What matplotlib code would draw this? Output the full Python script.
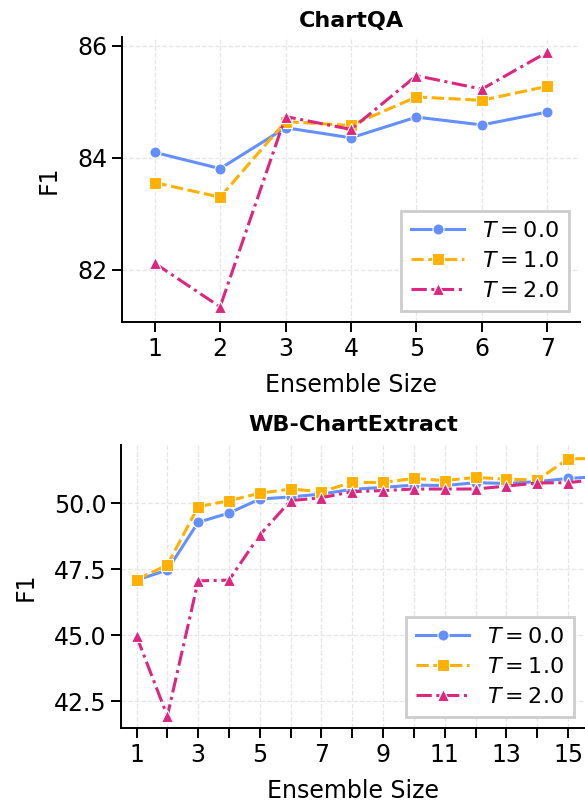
import matplotlib.pyplot as plt
import numpy as np

# ChartQA (ensemble size 1..7)
chartqa_sizes = [1, 2, 3, 4, 5, 6, 7]
chartqa_t0 = [84.10, 83.81, 84.54, 84.36, 84.73, 84.59, 84.82]
chartqa_t1 = [83.56, 83.30, 84.65, 84.58, 85.09, 85.03, 85.28]
chartqa_t2 = [82.12, 81.34, 84.74, 84.51, 85.47, 85.23, 85.89]

# WB-ChartExtract (ensemble size 1..16)
wb_sizes = list(range(1, 17))
wb_t0 = [47.08, 47.46, 49.27, 49.62, 50.15, 50.23, 50.34, 50.52,
         50.59, 50.68, 50.66, 50.77, 50.74, 50.81, 50.93, 51.00]
wb_t1 = [47.10, 47.65, 49.86, 50.09, 50.37, 50.53, 50.43, 50.78,
         50.78, 50.93, 50.85, 50.97, 50.90, 50.87, 51.67, 51.69]
wb_t2 = [44.96, 41.93, 47.05, 47.08, 48.79, 50.09, 50.20, 50.43,
         50.47, 50.53, 50.53, 50.53, 50.64, 50.76, 50.77, 50.90]

labels = ["$T = 0.0$", "$T = 1.0$", "$T = 2.0$"]
colors = ["#648FFF", "#FFB000", "#DC267F"]
markers = ["o", "s", "^"]
dashes = [(None), (4, 1.5), (5, 1.5, 1, 1.5)]

fig = plt.figure(figsize=(5.85, 8.05), dpi=100)
ax1 = fig.add_axes([0.2085, 0.600, 0.783, 0.354])
ax2 = fig.add_axes([0.207, 0.0957, 0.793, 0.3516])


def draw(ax, x, series, msize):
    for s, lab, c, m, d in zip(series, labels, colors, markers, dashes):
        line, = ax.plot(x, s, color=c, marker=m, markersize=msize, linewidth=2.2,
                        markeredgecolor="white", markeredgewidth=0.8, label=lab)
        if d is not None:
            line.set_dashes(d)
    ax.grid(True, linestyle="--", color="#e6e6e6", linewidth=0.9)
    ax.set_axisbelow(True)
    ax.spines["top"].set_visible(False)
    ax.spines["right"].set_visible(False)
    ax.tick_params(labelsize=17, length=7, width=1.4)
    for sp in ["left", "bottom"]:
        ax.spines[sp].set_linewidth(1.4)
    ax.set_xlabel("Ensemble Size", fontsize=17, labelpad=9)
    ax.set_ylabel("F1", fontsize=17, labelpad=12)
    leg = ax.legend(loc="lower right", fontsize=16, fancybox=False, framealpha=1,
                    edgecolor="#cccccc", handlelength=2.4, borderpad=0.45,
                    labelspacing=0.45, handletextpad=0.8)
    leg.get_frame().set_linewidth(2)


draw(ax1, chartqa_sizes, [chartqa_t0, chartqa_t1, chartqa_t2], 8)
ax1.set_xlim(0.5, 7.5)
ax1.set_ylim(81.07, 86.16)
ax1.set_xticks(chartqa_sizes)
ax1.set_yticks([82, 84, 86])
ax1.set_title("ChartQA", fontsize=16, fontweight="bold", pad=7)

draw(ax2, wb_sizes, [wb_t0, wb_t1, wb_t2], 8)
ax2.set_xlim(0.5, 15.55)
ax2.set_ylim(41.48, 52.2)
ax2.set_xticks(range(1, 16))
ax2.set_xticklabels([str(i) if i % 2 == 1 else "" for i in range(1, 16)])
ax2.set_yticks([42.5, 45.0, 47.5, 50.0])
ax2.set_yticklabels(["42.5", "45.0", "47.5", "50.0"])
ax2.set_title("WB-ChartExtract", fontsize=16, fontweight="bold", pad=10)

fig.savefig("out.png", dpi=100)
